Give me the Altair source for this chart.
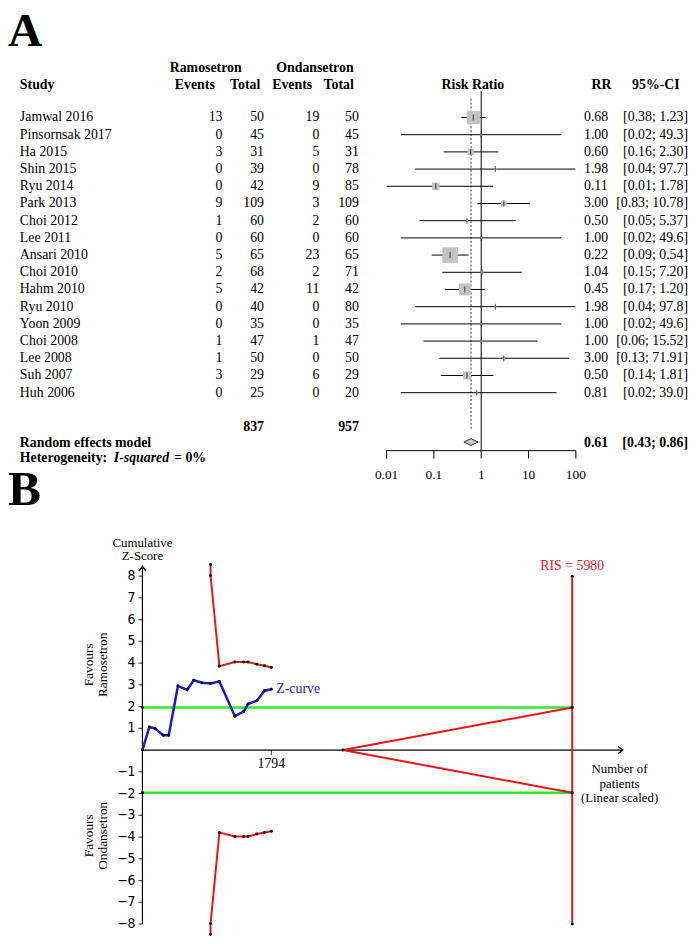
import altair as alt
import pandas as pd

# ---------------- Panel A data (forest plot) ----------------
studies = ["Jamwal 2016", "Pinsornsak 2017", "Ha 2015", "Shin 2015", "Ryu 2014",
           "Park 2013", "Choi 2012", "Lee 2011", "Ansari 2010", "Choi 2010",
           "Hahm 2010", "Ryu 2010", "Yoon 2009", "Choi 2008", "Lee 2008",
           "Suh 2007", "Huh 2006"]
ram_events = [13, 0, 3, 0, 0, 9, 1, 0, 5, 2, 5, 0, 0, 1, 1, 3, 0]
ram_total = [50, 45, 31, 39, 42, 109, 60, 60, 65, 68, 42, 40, 35, 47, 50, 29, 25]
ond_events = [19, 0, 5, 0, 9, 3, 2, 0, 23, 2, 11, 0, 0, 1, 0, 6, 0]
ond_total = [50, 45, 31, 78, 85, 109, 60, 60, 65, 71, 42, 80, 35, 47, 50, 29, 20]
rr = [0.68, 1.00, 0.60, 1.98, 0.11, 3.00, 0.50, 1.00, 0.22, 1.04, 0.45, 1.98,
      1.00, 1.00, 3.00, 0.50, 0.81]
ci_lo = [0.38, 0.02, 0.16, 0.04, 0.01, 0.83, 0.05, 0.02, 0.09, 0.15, 0.17, 0.04,
         0.02, 0.06, 0.13, 0.14, 0.02]
ci_hi = [1.23, 49.3, 2.30, 97.7, 1.78, 10.78, 5.37, 49.6, 0.54, 7.20, 1.20, 97.8,
         49.6, 15.52, 71.91, 1.81, 39.0]
ci_hi_label = ["1.23", "49.3", "2.30", "97.7", "1.78", "10.78", "5.37", "49.6", "0.54",
               "7.20", "1.20", "97.8", "49.6", "15.52", "71.91", "1.81", "39.0"]
weight = [21.8, 0.5, 5.5, 0.5, 7.3, 3.9, 0.5, 0.5, 30.3, 1.1, 17.7, 0.5, 0.5, 0.7,
          0.5, 7.9, 0.5]
pooled_rr, pooled_lo, pooled_hi = 0.61, 0.43, 0.86
forest_ticks = [0.01, 0.1, 1, 10, 100]
forest_tick_labels = ["0.01", "0.1", "1", "10", "100"]

# ---------------- Panel B data (trial sequential analysis) ----------------
z_n = [0, 96, 174, 288, 366, 494, 622, 714, 828, 948, 1071, 1286, 1409, 1469,
       1592, 1698, 1794]
z_val = [0, 1.06, 1.00, 0.68, 0.68, 2.95, 2.77, 3.21, 3.10, 3.06, 3.16, 1.56,
         1.77, 2.12, 2.27, 2.73, 2.80]
bound_n = [948, 948, 1071, 1286, 1409, 1469, 1592, 1698, 1794]
bound_up = [8.53, 8.03, 3.86, 4.05, 4.05, 4.05, 3.95, 3.88, 3.80]
bound_low = [-8.48, -7.98, -3.79, -3.97, -3.97, -3.97, -3.86, -3.79, -3.73]
ris = 5980
futility_start = 2790
conv_z = 1.96
z_ticks = [-8, -7, -6, -5, -4, -3, -2, -1, 1, 2, 3, 4, 5, 6, 7, 8]
z_tick_labels = ["\u22128", "\u22127", "\u22126", "\u22125", "\u22124", "\u22123",
                 "\u22122", "\u22121", "1", "2", "3", "4", "5", "6", "7", "8"]
n_tick = 1794

SERIF = "Liberation Serif, Times New Roman, Times, serif"
NARROW = "Liberation Sans Narrow, Arial Narrow, DejaVu Sans Condensed, sans-serif"
RED = "#e8161b"
GREEN = "#33e633"
BLUE = "#1a1acc"

# ---------------- scales ----------------
xs_f = alt.Scale(type="log", domain=[0.01, 100], range=[383, 574.5])
ys_r = alt.Scale(domain=[0, 16], range=[105.3, 383.7])
xs_b = alt.Scale(domain=[0, 6684], range=[136, 622])
ys_b = alt.Scale(domain=[-8, 8.45], range=[921.3, 559.4])

def RY(f="r"):
    return alt.Y(f"{f}:Q", scale=ys_r, axis=None)

def FX(f):
    return alt.X(f"{f}:Q", scale=xs_f, axis=None)

def BX(f="n"):
    return alt.X(f"{f}:Q", scale=xs_b, axis=None)

def BY(f="z"):
    return alt.Y(f"{f}:Q", scale=ys_b, axis=None)

def tA(label, x, row, align="center", weight="normal", style="normal", size=14):
    d = pd.DataFrame({"r": [row], "t": [label]})
    return alt.Chart(d).mark_text(align=align, baseline="middle", font=SERIF,
                                  fontSize=size, fontWeight=weight, fontStyle=style,
                                  color="black").encode(x=alt.value(x), y=RY(), text="t:N")

def tB(label, n, z, align="center", size=13, color="black", font=SERIF, angle=0,
       dx=0, lh=14, baseline="middle"):
    d = pd.DataFrame({"n": [n], "z": [z]})
    return alt.Chart(d).mark_text(text=label, align=align, baseline=baseline, font=font,
                                  fontSize=size, color=color, angle=angle, dx=dx,
                                  lineHeight=lh).encode(x=BX(), y=BY())

# ---------------- Panel A ----------------
df = pd.DataFrame({
    "r": list(range(len(studies))),
    "study": studies,
    "re": [str(v) for v in ram_events],
    "rt": [str(v) for v in ram_total],
    "oe": [str(v) for v in ond_events],
    "ot": [str(v) for v in ond_total],
    "rr": rr, "lo": ci_lo, "hi": ci_hi, "w": weight,
    "rrt": [f"{v:.2f}" for v in rr],
    "cit": [f"[{lo:.2f}; {h}]" for lo, h in zip(ci_lo, ci_hi_label)],
})

def col(field, x, align):
    return alt.Chart(df).mark_text(align=align, baseline="middle", font=SERIF, fontSize=14,
                                   color="black").encode(x=alt.value(x), y=RY(), text=f"{field}:N")

R_H1, R_H2 = -2.89, -1.91
R_TOT, R_POOL, R_DIA, R_HET = 18.0, 18.95, 18.87, 19.83
R_AX, R_AXT, R_AXL = 19.37, 19.83, 20.79

layersA = []
layersA.append(alt.Chart(pd.DataFrame({"t": ["A"]})).mark_text(
    align="left", baseline="alphabetic", font=SERIF, fontSize=48, fontWeight="bold",
    color="black").encode(x=alt.value(0), y=alt.value(33), text="t:N"))
layersA += [
    tA("Ramosetron", 200, R_H1, weight="bold"),
    tA("Ondansetron", 310.5, R_H1, weight="bold"),
    tA("Study", 12, R_H2, align="left", weight="bold"),
    tA("Events", 189, R_H2, weight="bold"),
    tA("Total", 240, R_H2, weight="bold"),
    tA("Events", 287.5, R_H2, weight="bold"),
    tA("Total", 334.5, R_H2, weight="bold"),
    tA("Risk Ratio", 470.3, R_H2, weight="bold"),
    tA("RR", 600.5, R_H2, weight="bold"),
    tA("95%-CI", 655.5, R_H2, weight="bold"),
]
layersA += [
    col("study", 12, "left"),
    col("re", 217, "right"),
    col("rt", 259, "right"),
    col("oe", 315, "right"),
    col("ot", 355, "right"),
    col("rrt", 582.7, "left"),
    col("cit", 688, "right"),
]
layersA += [
    tA(str(sum(ram_total)), 259, R_TOT, align="right", weight="bold"),
    tA(str(sum(ond_total)), 355, R_TOT, align="right", weight="bold"),
    tA("Random effects model", 12, R_POOL, align="left", weight="bold"),
    tA(f"{pooled_rr:.2f}", 582.7, R_POOL, align="left", weight="bold"),
    tA(f"[{pooled_lo:.2f}; {pooled_hi:.2f}]", 688, R_POOL, align="right", weight="bold"),
    tA("Heterogeneity:", 12, R_HET, align="left", weight="bold"),
    tA("I-squared", 107, R_HET, align="left", weight="bold", style="italic"),
    tA("= 0%", 168, R_HET, align="left", weight="bold"),
]
layersA.append(alt.Chart(pd.DataFrame({"x": [1], "r": [-1.53], "r2": [R_AX]})).mark_rule(
    color="black", strokeWidth=1).encode(x=FX("x"), y=RY(), y2="r2:Q"))
layersA.append(alt.Chart(pd.DataFrame({"x": [pooled_rr], "r": [-1.1], "r2": [18.2]})).mark_rule(
    color="#333333", strokeWidth=1, strokeDash=[2, 2]).encode(x=FX("x"), y=RY(), y2="r2:Q"))
layersA.append(alt.Chart(df).mark_rule(color="black", strokeWidth=1).encode(
    x=FX("lo"), x2="hi:Q", y=RY()))
layersA.append(alt.Chart(df).mark_square(color="#c2c2c2", opacity=1).encode(
    x=FX("rr"), y=RY(),
    size=alt.Size("w:Q", scale=alt.Scale(domain=[0, 30.3], range=[0, 246]), legend=None)))
layersA.append(alt.Chart(df).mark_tick(orient="vertical", size=6, thickness=1,
                                       color="black").encode(x=FX("rr"), y=RY()))
dia = pd.DataFrame({"x": [pooled_lo, pooled_rr, pooled_hi]})
dia["r"] = [R_DIA, R_DIA - 0.2, R_DIA]
dia["r2"] = [R_DIA, R_DIA + 0.2, R_DIA]
layersA.append(alt.Chart(dia).mark_area(fill="#c8c8c8", stroke="black", strokeWidth=0.8,
                                        opacity=1).encode(x=FX("x"), y=RY(), y2="r2:Q"))
layersA.append(alt.Chart(pd.DataFrame({"x": [forest_ticks[0]], "x2": [forest_ticks[-1]],
                                       "r": [R_AX]})).mark_rule(color="black", strokeWidth=1)
               .encode(x=FX("x"), x2="x2:Q", y=RY()))
ft = pd.DataFrame({"x": forest_ticks, "t": forest_tick_labels, "r": R_AX, "r2": R_AXT,
                   "rl": R_AXL})
layersA.append(alt.Chart(ft).mark_rule(color="black", strokeWidth=1).encode(
    x=FX("x"), y=RY(), y2="r2:Q"))
layersA.append(alt.Chart(ft).mark_text(font=SERIF, fontSize=13.5, baseline="middle",
                                       color="black").encode(x=FX("x"), y=RY("rl"), text="t:N"))

panelA = alt.layer(*layersA)

# ---------------- Panel B ----------------
layersB = []
layersB.append(alt.Chart(pd.DataFrame({"t": ["B"]})).mark_text(
    align="left", baseline="alphabetic", font=SERIF, fontSize=50, fontWeight="bold",
    color="black").encode(x=alt.value(0), y=alt.value(497), text="t:N"))
gl = pd.DataFrame({"n": [0, 0], "n2": [ris, ris], "z": [conv_z, -conv_z]})
layersB.append(alt.Chart(gl).mark_rule(color=GREEN, strokeWidth=2.6).encode(
    x=BX(), x2="n2:Q", y=BY()))
layersB.append(alt.Chart(pd.DataFrame({"n": [0], "z": [-8], "z2": [8.45]})).mark_rule(
    color="black", strokeWidth=1.2).encode(x=BX(), y=BY(), y2="z2:Q"))
layersB.append(alt.Chart(pd.DataFrame({"n": [0], "n2": [6684], "z": [0]})).mark_rule(
    color="black", strokeWidth=1.2).encode(x=BX(), x2="n2:Q", y=BY()))
layersB.append(alt.Chart(pd.DataFrame({"n": [0], "z": [8.45]})).mark_point(
    shape="M-1.2,1.6L0,0L1.2,1.6", filled=False, color="black", strokeWidth=1.3, size=36,
    opacity=1).encode(x=BX(), y=BY()))
layersB.append(alt.Chart(pd.DataFrame({"n": [6684], "z": [0]})).mark_point(
    shape="M-1.6,-1.2L0,0L-1.6,1.2", filled=False, color="black", strokeWidth=1.3, size=36,
    opacity=1).encode(x=BX(), y=BY()))
zt = pd.DataFrame({"z": z_ticks, "t": z_tick_labels, "n": 0})
layersB.append(alt.Chart(zt).mark_tick(orient="horizontal", size=4, thickness=1.2,
                                       xOffset=-2, color="black").encode(x=BX(), y=BY()))
layersB.append(alt.Chart(zt).mark_text(align="right", baseline="middle", dx=-7, font=NARROW,
                                       fontSize=14, color="black").encode(x=BX(), y=BY(), text="t:N"))
layersB.append(alt.Chart(pd.DataFrame({"n": [n_tick], "z": [0]})).mark_tick(
    orient="vertical", size=5, thickness=1.2, yOffset=2.5, color="black").encode(x=BX(), y=BY()))
layersB.append(tB(str(n_tick), n_tick, -0.62, size=14))
wedge = pd.DataFrame({"n": [futility_start, ris, futility_start, ris],
                      "z": [0, conv_z, 0, -conv_z], "side": ["u", "u", "l", "l"],
                      "i": [0, 1, 0, 1]})
layersB.append(alt.Chart(wedge).mark_line(color=RED, strokeWidth=2).encode(
    x=BX(), y=BY(), detail="side:N", order="i:Q"))
layersB.append(alt.Chart(pd.DataFrame({"n": [ris], "z": [-8], "z2": [8]})).mark_rule(
    color=RED, strokeWidth=2).encode(x=BX(), y=BY(), y2="z2:Q"))
bd = pd.concat([
    pd.DataFrame({"n": bound_n, "z": bound_up, "side": "u", "i": range(len(bound_n))}),
    pd.DataFrame({"n": bound_n, "z": bound_low, "side": "l", "i": range(len(bound_n))}),
])
layersB.append(alt.Chart(bd).mark_line(color=RED, strokeWidth=2).encode(
    x=BX(), y=BY(), detail="side:N", order="i:Q"))
zc = pd.DataFrame({"n": z_n, "z": z_val, "i": range(len(z_n))})
layersB.append(alt.Chart(zc).mark_line(color=BLUE, strokeWidth=2.5).encode(
    x=BX(), y=BY(), order="i:Q"))
dots = pd.concat([
    zc[["n", "z"]], bd[["n", "z"]],
    pd.DataFrame({"n": [ris, ris, ris, ris, 0, 0, futility_start],
                  "z": [8, -8, conv_z, -conv_z, conv_z, -conv_z, 0]}),
])
layersB.append(alt.Chart(dots).mark_circle(color="black", size=9, opacity=1).encode(
    x=BX(), y=BY()))
layersB += [
    tB(["Cumulative", "Z-Score"], 0, 9.52, size=13, lh=13),
    tB(["Favours", "Ramosetron"], -739, 3.92, size=13.5, angle=270, lh=13.5),
    tB(["Favours", "Ondansetron"], -739, -3.94, size=13.5, angle=270, lh=13.5),
    tB(f"RIS = {ris}", ris, 8.45, size=14, color=RED),
    tB("Z-curve", z_n[-1], z_val[-1], align="left", size=14, color=BLUE, dx=5),
    tB(["Number of", "patients", "(Linear scaled)"], 6639, -0.89, size=13, lh=14.3),
]

panelB = alt.layer(*layersB)

chart = alt.layer(panelA, panelB).resolve_scale(
    x="independent", y="independent"
).properties(
    width=692, height=936, padding=0, autosize=alt.AutoSizeParams(type="none"),
    background="white"
).configure_view(stroke=None)

chart.save("out.html", embed_options={"renderer": "svg", "actions": False})
